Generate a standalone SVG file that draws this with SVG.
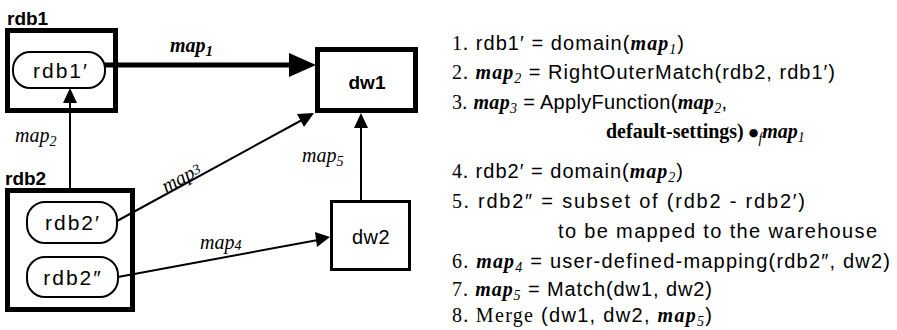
<svg xmlns="http://www.w3.org/2000/svg" width="897" height="330" viewBox="0 0 897 330">
<style>
.box{fill:#fff;stroke:#000}
.thick{stroke-width:5}
.round{fill:#fff;stroke:#000;stroke-width:2}
.lbl{font-family:"Liberation Sans",Arial,sans-serif;font-size:21px;letter-spacing:2px;fill:#000}
.blbl{font-family:"Liberation Sans",Arial,sans-serif;font-size:19px;font-weight:bold;fill:#000}
.mi{font-family:"Liberation Serif","Times New Roman",serif;font-style:italic;font-weight:normal;letter-spacing:0;fill:#000}
.mib{font-family:"Liberation Serif","Times New Roman",serif;font-style:italic;font-weight:bold;letter-spacing:0;fill:#000}
.ser{font-family:"Liberation Serif","Times New Roman",serif;letter-spacing:0;fill:#000}
.conn line{stroke:#000;stroke-width:2}
.conn polygon{fill:#000}
.list{font-family:"Liberation Sans",Arial,sans-serif;font-size:20px;fill:#000}
</style>
<rect width="897" height="330" fill="#fff"/>

<g id="rdb1">
  <text class="blbl" x="7" y="25">rdb1</text>
  <rect class="box thick" x="7.5" y="30.5" width="108" height="80"/>
</g>
<g id="rdb1p">
  <rect class="round" x="13" y="52" width="92" height="36" rx="17"/>
  <text class="lbl" x="61" y="78" text-anchor="middle">rdb1′</text>
</g>
<g id="dw1">
  <rect class="box thick" x="317.5" y="49.5" width="98" height="61"/>
  <text class="blbl" x="367" y="89" text-anchor="middle" font-size="20">dw1</text>
</g>
<g id="rdb2">
  <text class="blbl" x="5" y="185">rdb2</text>
  <rect class="box thick" x="7.5" y="190.5" width="125" height="119"/>
</g>
<g id="rdb2p">
  <rect class="round" x="27" y="202" width="90" height="41" rx="18"/>
  <text class="lbl" x="73" y="230" text-anchor="middle">rdb2′</text>
</g>
<g id="rdb2pp">
  <rect class="round" x="27" y="257" width="91" height="40" rx="18"/>
  <text class="lbl" x="73" y="285" text-anchor="middle">rdb2″</text>
</g>
<g id="dw2">
  <rect class="box" stroke-width="3" x="331.5" y="201.5" width="78" height="68"/>
  <text class="lbl" x="371" y="244" text-anchor="middle" style="letter-spacing:0.5px;font-size:20px">dw2</text>
</g>

<g id="connectors" class="conn">
  <line x1="105" y1="65" x2="292" y2="65" style="stroke-width:5"/>
  <polygon points="289,53 316,65 289,77"/>
  <line x1="70" y1="188" x2="70" y2="100"/>
  <polygon points="63,103 70,88 77,103"/>
  <line x1="117" y1="221" x2="302" y2="120"/>
  <polygon points="297,114 314,113 304,127"/>
  <line x1="118" y1="277" x2="318" y2="240"/>
  <polygon points="315,232 330,237 317,247"/>
  <line x1="361" y1="201" x2="361" y2="126"/>
  <polygon points="354,128 361,113 368,128"/>
</g>

<g id="conn-labels">
  <text class="mib" x="170" y="52" font-size="20">map<tspan font-size="15" dy="4">1</tspan></text>
  <text class="mi" x="15" y="142" font-size="20">map<tspan font-size="14" dy="4">2</tspan></text>
  <text class="mi" font-size="20" transform="translate(166,193) rotate(-28)">map<tspan font-size="14" dy="-2">3</tspan></text>
  <text class="mi" x="200" y="249" font-size="20">map<tspan font-size="14" dy="1">4</tspan></text>
  <text class="mi" x="302" y="162" font-size="20">map<tspan font-size="14" dy="4">5</tspan></text>
</g>

<g id="listing" class="list">
  <text x="452" y="50" textLength="232" lengthAdjust="spacing"><tspan class="ser">1.</tspan> rdb1′ = domain(<tspan class="mib">map</tspan><tspan class="mi" font-size="14" dy="4">1</tspan><tspan dy="-4">)</tspan></text>
  <text x="452" y="79" textLength="383" lengthAdjust="spacing"><tspan class="ser">2.</tspan> <tspan class="mib">map</tspan><tspan class="mi" font-size="14" dy="4">2</tspan><tspan dy="-4"> = RightOuterMatch(rdb2, rdb1′)</tspan></text>
  <text x="452" y="109" textLength="275" lengthAdjust="spacing"><tspan class="ser">3.</tspan> <tspan class="mib">map</tspan><tspan class="mi" font-size="14" dy="4">3</tspan><tspan dy="-4"> = ApplyFunction(</tspan><tspan class="mib">map</tspan><tspan class="mi" font-size="14" dy="4">2</tspan><tspan dy="-4">,</tspan></text>
  <text x="606" y="138" class="ser" font-weight="bold">default-settings) <tspan font-family="DejaVu Sans, sans-serif" font-size="11" font-weight="normal" dy="-2">●</tspan><tspan class="mi" font-size="14" dy="7">f</tspan><tspan class="mib" dy="-5">map</tspan><tspan class="mi" font-size="14" dy="4">1</tspan></text>
  <text x="452" y="178" textLength="231" lengthAdjust="spacing"><tspan class="ser">4.</tspan> rdb2′ = domain(<tspan class="mib">map</tspan><tspan class="mi" font-size="14" dy="4">2</tspan><tspan dy="-4">)</tspan></text>
  <text x="452" y="208" textLength="353" lengthAdjust="spacing"><tspan class="ser">5.</tspan> rdb2″ = subset of (rdb2 - rdb2′)</text>
  <text x="558" y="238" textLength="319" lengthAdjust="spacing">to be mapped to the warehouse</text>
  <text x="452" y="268" textLength="438" lengthAdjust="spacing"><tspan class="ser">6.</tspan> <tspan class="mib">map</tspan><tspan class="mi" font-size="14" dy="4">4</tspan><tspan dy="-4"> = user-defined-mapping(rdb2″, dw2)</tspan></text>
  <text x="452" y="296" textLength="260" lengthAdjust="spacing"><tspan class="ser">7.</tspan> <tspan class="mib">map</tspan><tspan class="mi" font-size="14" dy="4">5</tspan><tspan dy="-4"> = Match(dw1, dw2)</tspan></text>
  <text x="452" y="322" textLength="260" lengthAdjust="spacing"><tspan class="ser">8. Merge</tspan> (dw1, dw2, <tspan class="mib">map</tspan><tspan class="mi" font-size="14" dy="4">5</tspan><tspan dy="-4">)</tspan></text>
</g>
</svg>
